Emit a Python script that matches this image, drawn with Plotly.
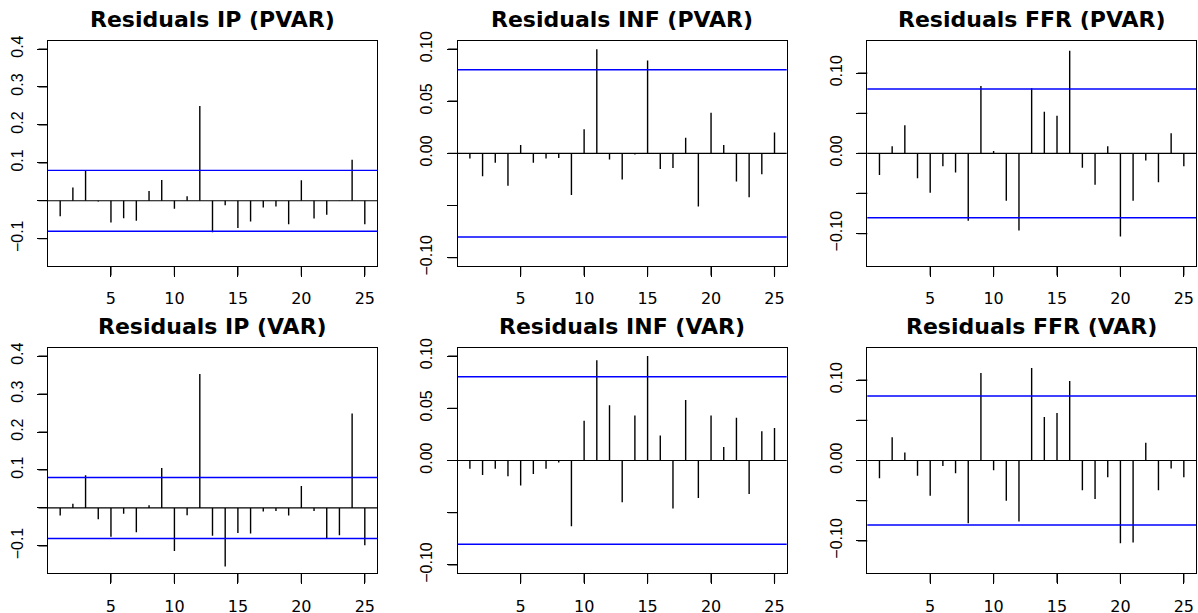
import plotly.graph_objects as go

# ---------------- data ----------------
lags = list(range(1, 26))

ip_pvar = [-0.041, 0.035, 0.079, -0.002, -0.057, -0.046, -0.053, 0.026, 0.055, -0.021,
           0.012, 0.250, -0.083, -0.012, -0.072, -0.055, -0.018, -0.015, -0.062, 0.054,
           -0.047, -0.037, 0.001, 0.108, -0.062]
inf_pvar = [-0.005, -0.022, -0.009, -0.031, 0.008, -0.009, -0.005, -0.0045, -0.040, 0.023,
            0.0997, -0.006, -0.025, -0.001, 0.089, -0.015, -0.014, 0.015, -0.051, 0.039,
            0.008, -0.027, -0.042, -0.020, 0.020]
ffr_pvar = [-0.027, 0.009, 0.035, -0.031, -0.049, -0.016, -0.024, -0.084, 0.084, 0.003,
            -0.059, -0.096, 0.081, 0.052, 0.047, 0.128, -0.018, -0.039, 0.009, -0.1035,
            -0.059, -0.009, -0.036, 0.025, -0.016]
ip_var = [-0.020, 0.011, 0.086, -0.030, -0.076, -0.015, -0.064, 0.007, 0.105, -0.113,
          -0.019, 0.353, -0.073, -0.154, -0.066, -0.067, -0.009, -0.008, -0.020, 0.058,
          -0.008, -0.079, -0.072, 0.249, -0.098]
inf_var = [-0.008, -0.014, -0.008, -0.015, -0.024, -0.013, -0.008, -0.002, -0.063, 0.038,
           0.096, 0.053, -0.040, 0.043, 0.100, 0.024, -0.046, 0.058, -0.036, 0.043,
           0.013, 0.041, -0.032, 0.028, 0.031]
ffr_var = [-0.022, 0.029, 0.010, -0.019, -0.044, -0.007, -0.016, -0.078, 0.109, -0.012,
           -0.050, -0.076, 0.115, 0.054, 0.059, 0.099, -0.037, -0.048, -0.021, -0.103,
           -0.102, 0.022, -0.037, -0.010, -0.021]

titles = ["Residuals IP (PVAR)", "Residuals INF (PVAR)", "Residuals FFR (PVAR)",
          "Residuals IP (VAR)", "Residuals INF (VAR)", "Residuals FFR (VAR)"]
series = [ip_pvar, inf_pvar, ffr_pvar, ip_var, inf_var, ffr_var]

ci = 0.0802  # confidence bound

x_tickvals = [5, 10, 15, 20, 25]
ip_tickvals = [-0.1, 0.0, 0.1, 0.2, 0.3, 0.4]
ip_ticktext = ["\u22120.1", "", "0.1", "0.2", "0.3", "0.4"]
inf_tickvals = [-0.10, -0.05, 0.0, 0.05, 0.10]
inf_ticktext = ["\u22120.10", "", "0.00", "0.05", "0.10"]
ffr_tickvals = [-0.10, -0.05, 0.0, 0.05, 0.10]
ffr_ticktext = ["\u22120.10", "", "0.00", "", "0.10"]

ylims = [(-0.15, 0.40), (-0.10, 0.10), (-0.13, 0.13)]
yticks = [(ip_tickvals, ip_ticktext), (inf_tickvals, inf_ticktext), (ffr_tickvals, ffr_ticktext)]

# ---------------- layout ----------------
W, H = 1198, 613
TICK = 10
x_domains = [[48 / W, 377 / W], [457.7 / W, 786.7 / W], [867.3 / W, 1196 / W]]
y_domains = [[1 - 266 / H, 1 - 40.7 / H], [1 - 573.3 / H, 1 - 347.7 / H]]

fig = go.Figure()
layout = dict(
    width=W, height=H,
    margin=dict(l=0, r=0, t=0, b=0, autoexpand=False),
    paper_bgcolor="white", plot_bgcolor="white",
    showlegend=False,
)
shapes = []
annotations = []

def expand(lo, hi):
    d = (hi - lo) * 0.04
    return [lo - d, hi + d]

def tick_mark(xref, yref, x, y, ax, ay):
    return dict(text="", xref=xref, yref=yref, x=x, y=y, ax=ax, ay=ay,
                axref="pixel", ayref="pixel", showarrow=True, arrowhead=0,
                arrowwidth=1.2, arrowcolor="black", standoff=0, startstandoff=0,
                borderpad=0, font=dict(size=1))

for i, (title, vals) in enumerate(zip(titles, series)):
    r, c = divmod(i, 3)
    n = i + 1
    xa = "xaxis" if n == 1 else f"xaxis{n}"
    ya = "yaxis" if n == 1 else f"yaxis{n}"
    xr = "x" if n == 1 else f"x{n}"
    yr = "y" if n == 1 else f"y{n}"

    xs, ys = [], []
    for lag, v in zip(lags, vals):
        xs += [lag, lag, None]
        ys += [0, v, None]
    fig.add_trace(go.Scatter(x=xs, y=ys, mode="lines", xaxis=xr, yaxis=yr,
                             line=dict(color="black", width=1.4), hoverinfo="skip"))

    lo, hi = ylims[c]
    tv, tt = yticks[c]
    layout[xa] = dict(
        domain=x_domains[c], anchor=yr, range=expand(min(lags), max(lags)),
        tickmode="array", tickvals=x_tickvals, ticks="outside", ticklen=TICK,
        tickwidth=1.2, tickcolor="#000000", showline=True, linecolor="black",
        linewidth=1, mirror=True, showgrid=False, zeroline=False,
        tickfont=dict(family="DejaVu Sans", size=16, color="black"),
        ticklabelstandoff=8, automargin=False,
    )
    layout[ya] = dict(
        domain=y_domains[r], anchor=xr, range=expand(lo, hi),
        tickmode="array", tickvals=tv, ticktext=tt, ticks="outside", ticklen=TICK,
        tickwidth=1.2, tickcolor="#000000", showline=True, linecolor="black",
        linewidth=1, mirror=True, showgrid=False, zeroline=False,
        tickangle=-90,
        tickfont=dict(family="Liberation Sans", size=16, color="black"),
        ticklabelstandoff=8, automargin=False,
    )
    # explicit tick marks at the axis tick values (unclipped)
    for v in x_tickvals:
        annotations.append(tick_mark(xr, f"{yr} domain", v, 0, 0, TICK))
    for v in tv:
        annotations.append(tick_mark(f"{xr} domain", yr, 0, v, -TICK, 0))
    # zero line and confidence bounds
    shapes.append(dict(type="line", xref=f"{xr} domain", yref=yr, x0=0, x1=1, y0=0, y1=0,
                       line=dict(color="black", width=1.2)))
    for b in (ci, -ci):
        shapes.append(dict(type="line", xref=f"{xr} domain", yref=yr, x0=0, x1=1, y0=b, y1=b,
                           line=dict(color="#0000FF", width=1.4)))
    annotations.append(dict(
        text=f"<b>{title}</b>", xref="paper", yref="paper",
        x=(x_domains[c][0] + x_domains[c][1]) / 2, y=y_domains[r][1] + 7 / H,
        xanchor="center", yanchor="bottom", showarrow=False,
        font=dict(family="DejaVu Sans", size=22, color="black"),
    ))

layout["shapes"] = shapes
layout["annotations"] = annotations
fig.update_layout(**layout)
fig.write_html("out.html", config={"displayModeBar": False},
               post_script="document.body.style.margin='0px';document.body.style.padding='0px';")
